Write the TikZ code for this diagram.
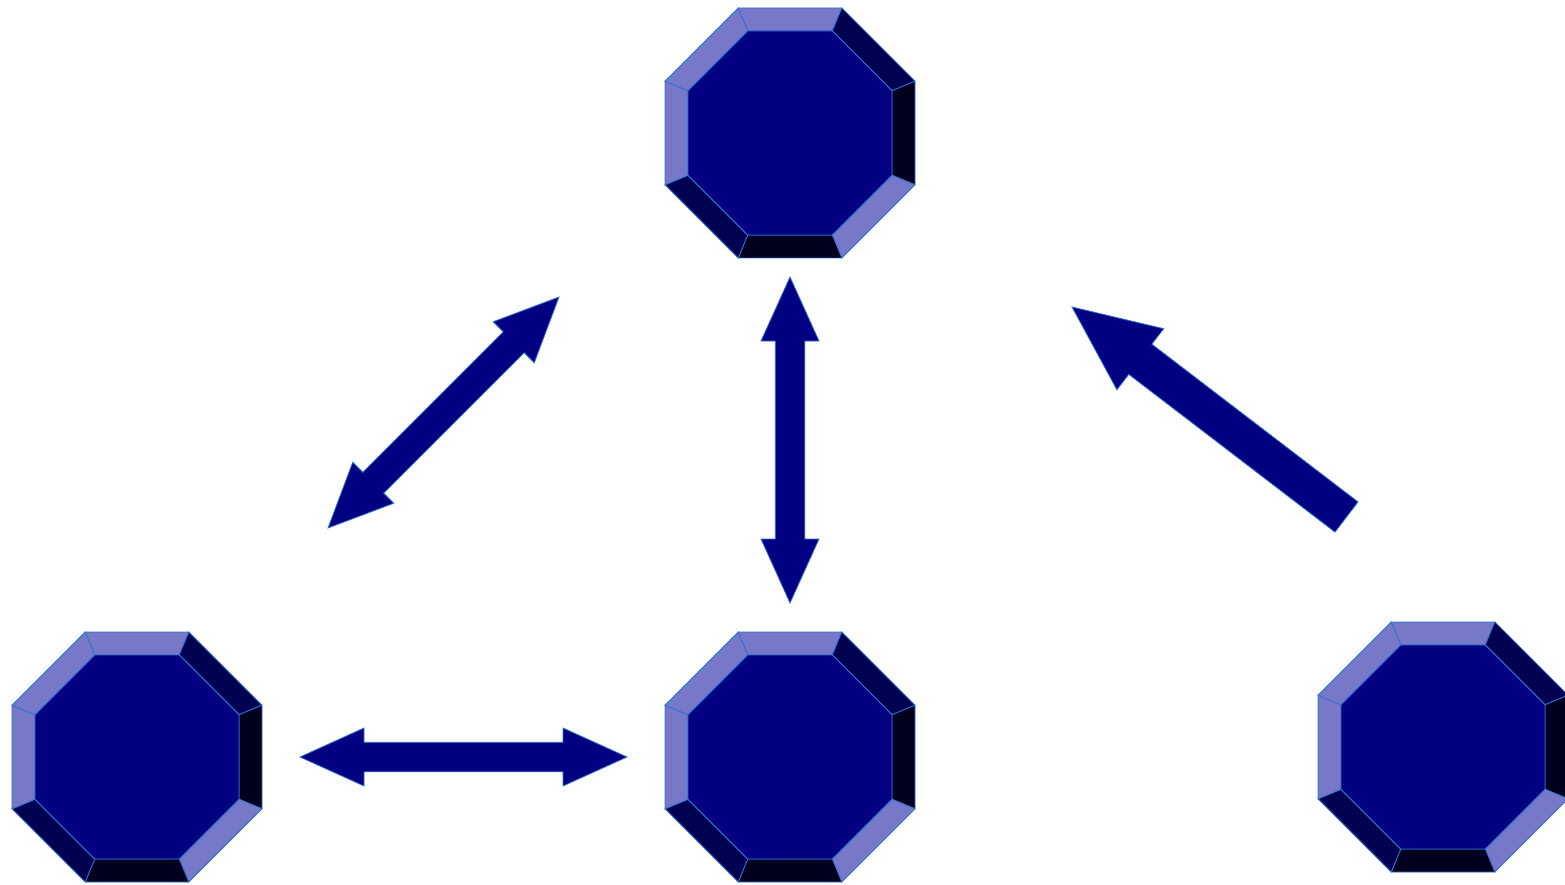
\documentclass[tikz,border=0pt]{standalone}
\usetikzlibrary{calc}
\definecolor{navyfill}{HTML}{000080}
\definecolor{bevlight}{HTML}{7878C8}
\definecolor{bevdark}{HTML}{000050}
\definecolor{bevdarkest}{HTML}{00001E}
\definecolor{edgeblue}{HTML}{2E72D2}
\tikzset{
  edgeline/.style={draw=edgeblue,line width=0.8pt,line join=miter},
  facemain/.style={edgeline,fill=navyfill},
  facelight/.style={edgeline,fill=bevlight},
  facedark/.style={edgeline,fill=bevdark},
  facedarkest/.style={edgeline,fill=bevdarkest},
  blockarrow/.style={edgeline,fill=navyfill},
}
\newcommand\bevoct[1]{%
  \begin{scope}[shift={(#1)}]
    \def\oa{125}\def\os{51.8}\def\ia{102}\def\is{42.25}%
    \path[facelight]   (-\os,-\oa) -- (\os,-\oa) -- (\is,-\ia) -- (-\is,-\ia) -- cycle;
    \path[facedark]    (\os,-\oa) -- (\oa,-\os) -- (\ia,-\is) -- (\is,-\ia) -- cycle;
    \path[facedarkest] (\oa,-\os) -- (\oa,\os) -- (\ia,\is) -- (\ia,-\is) -- cycle;
    \path[facelight]   (\oa,\os) -- (\os,\oa) -- (\is,\ia) -- (\ia,\is) -- cycle;
    \path[facedarkest] (\os,\oa) -- (-\os,\oa) -- (-\is,\ia) -- (\is,\ia) -- cycle;
    \path[facedark]    (-\os,\oa) -- (-\oa,\os) -- (-\ia,\is) -- (-\is,\ia) -- cycle;
    \path[facelight]   (-\oa,\os) -- (-\oa,-\os) -- (-\ia,-\is) -- (-\ia,\is) -- cycle;
    \path[facelight]   (-\oa,-\os) -- (-\os,-\oa) -- (-\is,-\ia) -- (-\ia,-\is) -- cycle;
    \path[facemain] (-\is,-\ia) -- (\is,-\ia) -- (\ia,-\is) -- (\ia,\is) -- (\is,\ia)
      -- (-\is,\ia) -- (-\ia,\is) -- (-\ia,-\is) -- cycle;
  \end{scope}}
% double block arrow: #1 end A, #2 end B, #3 half shaft, #4 half head, #5 head length
\newcommand\dblarrow[5]{%
  \path[blockarrow] (#1)
    -- ($(#1)!#5!(#2)!#4!90:(#2)$)
    -- ($(#1)!#5!(#2)!#3!90:(#2)$)
    -- ($(#2)!#5!(#1)!#3!270:(#1)$)
    -- ($(#2)!#5!(#1)!#4!270:(#1)$)
    -- (#2)
    -- ($(#2)!#5!(#1)!#4!90:(#1)$)
    -- ($(#2)!#5!(#1)!#3!90:(#1)$)
    -- ($(#1)!#5!(#2)!#3!270:(#2)$)
    -- ($(#1)!#5!(#2)!#4!270:(#2)$)
    -- cycle;}
% single block arrow: #1 tip, #2 tail centre
\newcommand\sglarrow[5]{%
  \path[blockarrow] (#1)
    -- ($(#1)!#5!(#2)!#4!90:(#2)$)
    -- ($(#1)!#5!(#2)!#3!90:(#2)$)
    -- ($(#2)!#3!270:(#1)$)
    -- ($(#2)!#3!90:(#1)$)
    -- ($(#1)!#5!(#2)!#3!270:(#2)$)
    -- ($(#1)!#5!(#2)!#4!270:(#2)$)
    -- cycle;}
\begin{document}
\begin{tikzpicture}[x=1pt,y=-1pt]
  \clip (0,0) rectangle (1565,885);
  \fill[white] (0,0) rectangle (1565,885);
  % octagon centres
  \coordinate (top)   at (790,133);
  \coordinate (botl)  at (137,757);
  \coordinate (botm)  at (790,757);
  \coordinate (right) at (1443,747);
  \bevoct{top}
  \bevoct{botl}
  \bevoct{botm}
  \bevoct{right}
  % arrow end points
  \coordinate (dA) at (328,528);
  \coordinate (dB) at (559,297);
  \coordinate (vA) at (790,277);
  \coordinate (vB) at (790,603);
  \coordinate (hA) at (300,757);
  \coordinate (hB) at (627,757);
  \coordinate (sTip)  at (1072,307);
  \coordinate (sTail) at (1346.5,517);
  \dblarrow{dA}{dB}{14.75pt}{29pt}{64pt}
  \dblarrow{vA}{vB}{14.75pt}{29pt}{64pt}
  \dblarrow{hA}{hB}{14.75pt}{29pt}{64pt}
  \sglarrow{sTip}{sTail}{19pt}{38.5pt}{86pt}
\end{tikzpicture}
\end{document}
